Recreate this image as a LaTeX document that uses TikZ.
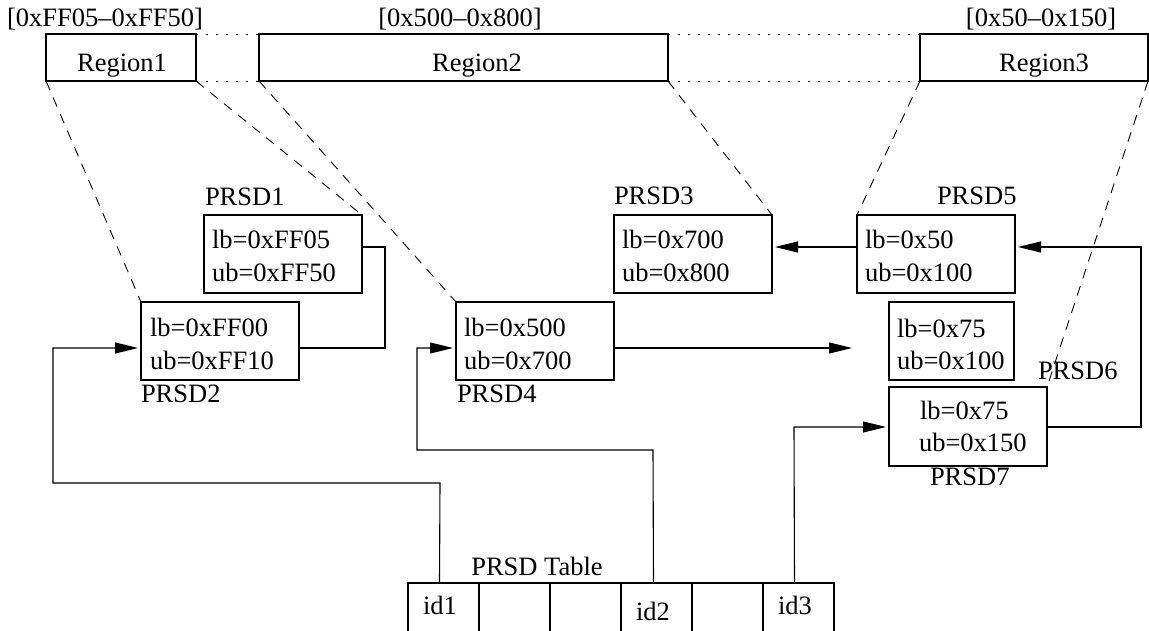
\documentclass[tikz,border=0pt]{standalone}
\usepackage{fontspec}
\setmainfont{Liberation Serif}
\usetikzlibrary{arrows.meta,calc}
\begin{document}
\begin{tikzpicture}[x=1pt,y=-1pt,
  line width=1.1pt,
  every node/.style={font=\fontsize{26.5}{30}\selectfont, inner sep=0pt, outer sep=0pt},
  regbox/.style={draw, anchor=north west, minimum height=47pt},
  desc/.style={draw, anchor=north west, minimum width=158pt, minimum height=78pt},
  cell/.style={draw, anchor=north west, minimum width=71pt, minimum height=49pt},
  txt/.style={anchor=base west},
  lbl/.style={anchor=base west},
  mapto/.style={dash pattern=on 10pt off 8pt, line width=0.9pt},
  gapline/.style={dash pattern=on 2pt off 8pt, line width=0.9pt},
  link/.style={-{Triangle[length=23pt,width=11pt]}, shorten >=3pt}]
\useasboundingbox (0,0) rectangle (1149,631);

% address space regions
\node[regbox, minimum width=150pt] (r1) at (46,34) {};
\node[regbox, minimum width=409pt] (r2) at (259,34) {};
\node[regbox, minimum width=228pt] (r3) at (920,34) {};
\node[anchor=base] (rt1) at (122,72) {Region1};
\node[anchor=base] (rt2) at (477,72) {Region2};
\node[anchor=base] (rt3) at (1044,72) {Region3};
\node[anchor=base] (ra1) at (105,27) {[0xFF05--0xFF50]};
\node[anchor=base] (ra2) at (460,27) {[0x500--0x800]};
\node[anchor=base] (ra3) at (1041,27) {[0x50--0x150]};
\draw[gapline] (r1.north east) -- (r2.north west);
\draw[gapline] (r1.south east) -- (r2.south west);
\draw[gapline] (r2.north east) -- (r3.north west);
\draw[gapline] (r2.south east) -- (r3.south west);

% descriptors
\node[desc] (p1) at (204,215) {};
\node[desc] (p2) at (141,302) {};
\node[desc] (p3) at (614,215) {};
\node[desc] (p4) at (456,302) {};
\node[desc] (p5) at (857,215) {};
\node[desc, minimum width=125pt] (p6) at (889,302) {};
\node[desc, minimum height=79pt] (p7) at (889,387) {};

\node[txt] (p1a) at ($(p1.north west)+(8,34)$) {lb=0xFF05};
\node[txt] (p1b) at ($(p1.north west)+(8,67)$) {ub=0xFF50};
\node[txt] (p2a) at ($(p2.north west)+(9,34)$) {lb=0xFF00};
\node[txt] (p2b) at ($(p2.north west)+(9,67)$) {ub=0xFF10};
\node[txt] (p3a) at ($(p3.north west)+(8,34)$) {lb=0x700};
\node[txt] (p3b) at ($(p3.north west)+(8,67)$) {ub=0x800};
\node[txt] (p4a) at ($(p4.north west)+(8,34)$) {lb=0x500};
\node[txt] (p4b) at ($(p4.north west)+(8,67)$) {ub=0x700};
\node[txt] (p5a) at ($(p5.north west)+(8,34)$) {lb=0x50};
\node[txt] (p5b) at ($(p5.north west)+(8,67)$) {ub=0x100};
\node[txt] (p6a) at ($(p6.north west)+(8,35)$) {lb=0x75};
\node[txt] (p6b) at ($(p6.north west)+(8,67)$) {ub=0x100};
\node[txt] (p7a) at ($(p7.north west)+(31,32)$) {lb=0x75};
\node[txt] (p7b) at ($(p7.north west)+(30,64)$) {ub=0x150};

\node[lbl] (l1) at (205,206) {PRSD1};
\node[lbl] (l2) at (141,402) {PRSD2};
\node[lbl] (l3) at (614,205) {PRSD3};
\node[lbl] (l4) at (457,402) {PRSD4};
\node[lbl] (l5) at (937,205) {PRSD5};
\node[lbl] (l6) at (1038,379) {PRSD6};
\node[lbl] (l7) at (930,485) {PRSD7};

% region to descriptor mapping
\draw[mapto] (r1.south west) -- (p2.north west);
\draw[mapto] (r1.south east) -- (p1.north east);
\draw[mapto] (r2.south west) -- (p4.north west);
\draw[mapto] (r2.south east) -- (p3.north east);
\draw[mapto] (r3.south west) -- (p5.north west);
\draw[mapto] (r3.south east) -- (p7.north east);

% descriptor table
\node[cell] (t1) at (408,583) {};
\node[cell] (t2) at (479,583) {};
\node[cell] (t3) at (550,583) {};
\node[cell] (t4) at (621,583) {};
\node[cell] (t5) at (692,583) {};
\node[cell] (t6) at (763,583) {};
\node[anchor=base] (tt) at (537,575) {PRSD Table};
\node[anchor=base] (i1) at (440,614) {id1};
\node[anchor=base] (i2) at (653,620) {id2};
\node[anchor=base] (i3) at (795,614) {id3};

% links
\coordinate (e4) at (855,348);
\draw[link] ([xshift=-4pt]t1.north) -- (440,483) -- (53,483) -- (53,348) -- ($(p2.north west)+(0,46)$);
\draw[link] ([xshift=-3pt]t4.north) -- (653,450) -- (417,450) -- (417,348) -- ($(p4.north west)+(0,46)$);
\draw[link] ([xshift=-4pt]t6.north) -- (794,427) -- ($(p7.north west)+(0,40)$);
\draw[link] ($(p4.north east)+(0,46)$) -- (e4);
\draw[link] ($(p5.north west)+(0,32)$) -- ($(p3.north east)+(0,32)$);
\draw[link] ($(p7.north east)+(0,40)$) -- (1141,427) -- (1141,247) -- ($(p5.north east)+(0,32)$);
\draw ($(p1.north east)+(0,32)$) -- (385,247) -- (385,348) -- ($(p2.north east)+(0,46)$);
\end{tikzpicture}
\end{document}
